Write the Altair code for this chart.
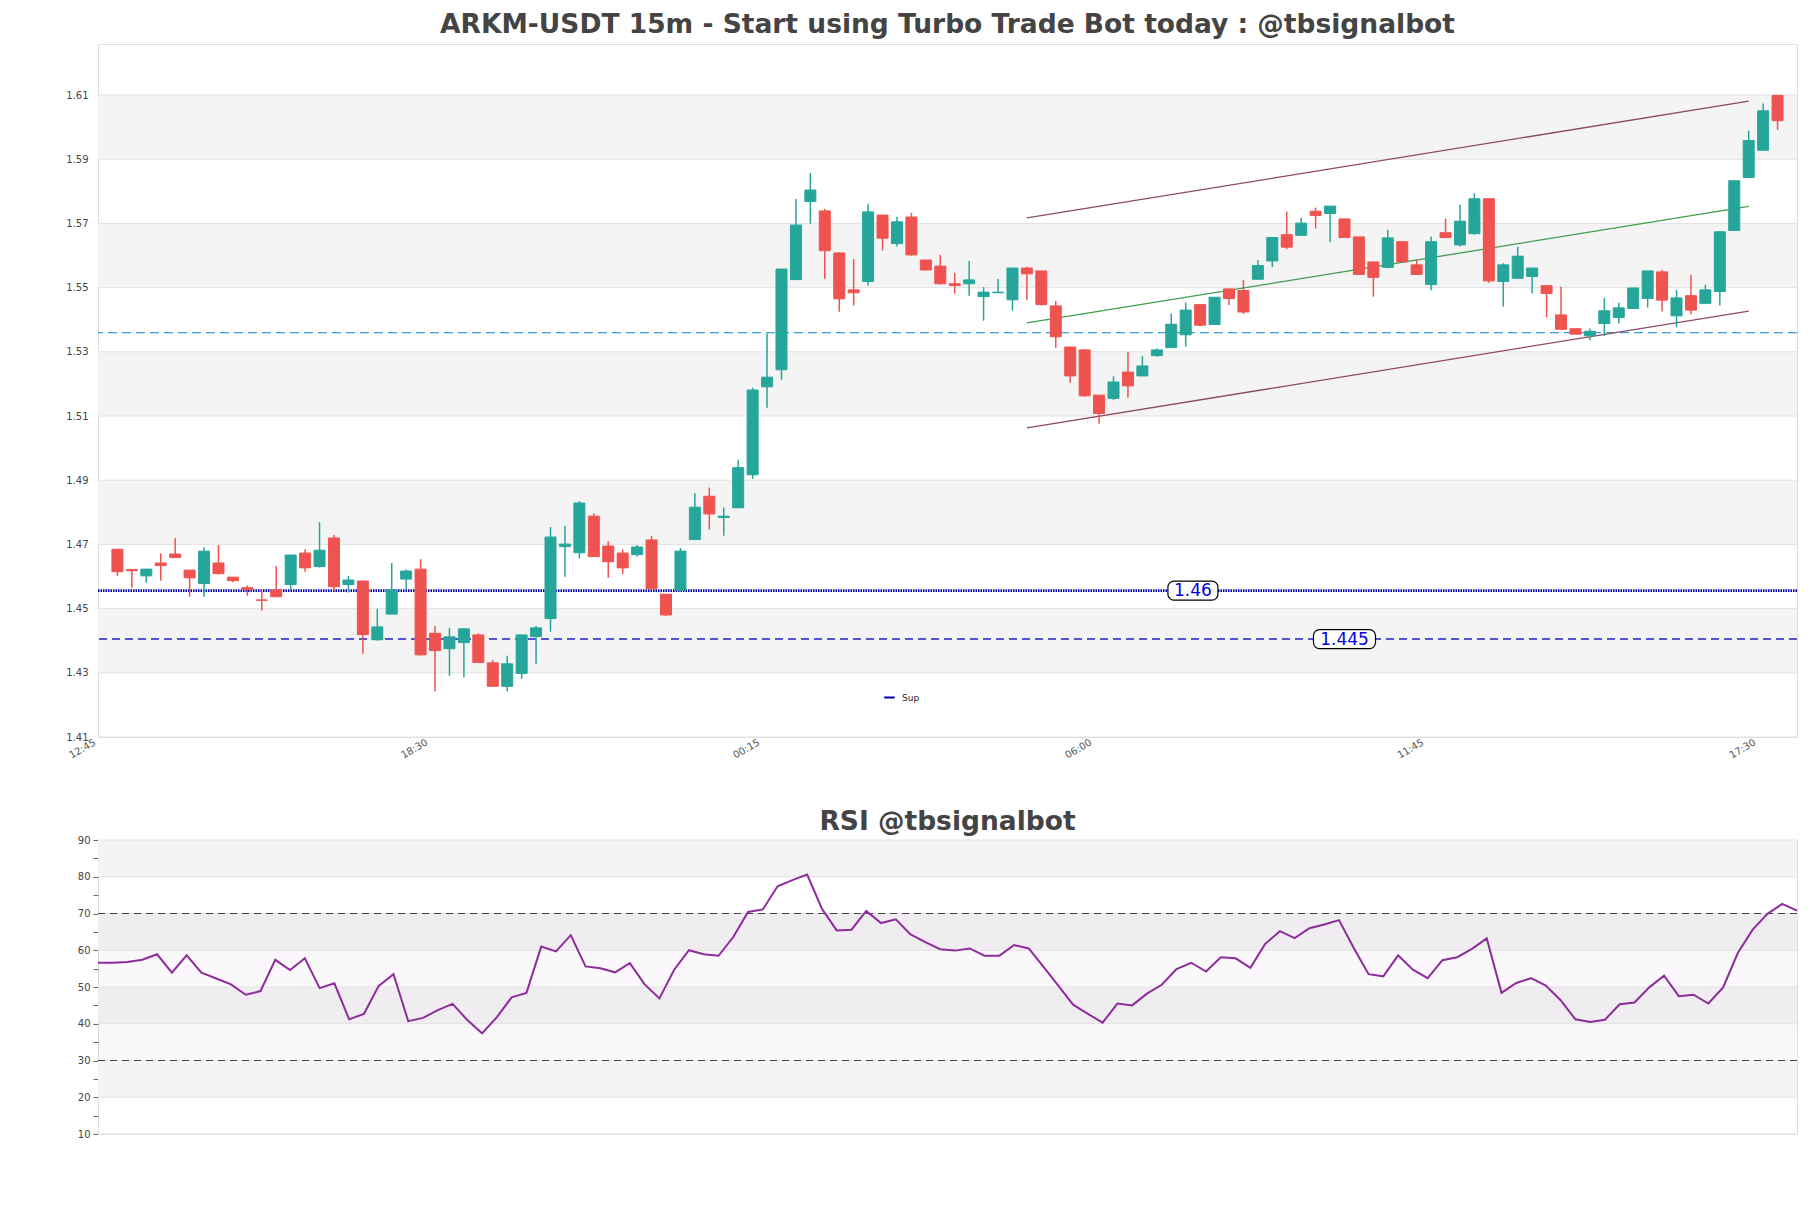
import altair as alt
import pandas as pd

# ---------------- data ----------------
opens = [1.4685, 1.4622, 1.4602, 1.4642, 1.4670, 1.4620, 1.4578, 1.4642, 1.4598, 1.4565,
         1.4527, 1.4558, 1.4575, 1.4673, 1.4631, 1.4720, 1.4575, 1.4586, 1.4403, 1.4483,
         1.4592, 1.4623, 1.4423, 1.4375, 1.4394, 1.4418, 1.4331, 1.4258, 1.4298, 1.4413,
         1.4469, 1.4693, 1.4674, 1.4788, 1.4695, 1.4673, 1.4668, 1.4714, 1.4545, 1.4557,
         1.4715, 1.4850, 1.4784, 1.4814, 1.4917, 1.5191, 1.5244, 1.5525, 1.5768, 1.5739,
         1.5608, 1.5493, 1.5519, 1.5726, 1.5637, 1.5720, 1.5586, 1.5567, 1.5512, 1.5512,
         1.5472, 1.5484, 1.5462, 1.5561, 1.5552, 1.5443, 1.5315, 1.5306, 1.5165, 1.5155,
         1.5237, 1.5225, 1.5288, 1.5313, 1.5353, 1.5447, 1.5385, 1.5496, 1.5491, 1.5526,
         1.5583, 1.5665, 1.5663, 1.5738, 1.5731, 1.5714, 1.5658, 1.5580, 1.5563, 1.5643,
         1.5571, 1.5510, 1.5671, 1.5633, 1.5668, 1.5777, 1.5519, 1.5529, 1.5535, 1.5506,
         1.5415, 1.5372, 1.5350, 1.5388, 1.5407, 1.5435, 1.5466, 1.5549, 1.5412, 1.5475,
         1.5451, 1.5488, 1.5678, 1.5843, 1.5928, 1.6099]
highs = [1.4685, 1.4622, 1.4623, 1.4672, 1.4720, 1.4620, 1.4691, 1.4698, 1.4598, 1.4572,
         1.4556, 1.4633, 1.4667, 1.4685, 1.4769, 1.4729, 1.4602, 1.4586, 1.4499, 1.4642,
         1.4623, 1.4654, 1.4446, 1.4440, 1.4437, 1.4423, 1.4340, 1.4353, 1.4418, 1.4446,
         1.4754, 1.4757, 1.4835, 1.4797, 1.4710, 1.4684, 1.4698, 1.4726, 1.4545, 1.4689,
         1.4859, 1.4877, 1.4815, 1.4964, 1.5188, 1.5357, 1.5558, 1.5776, 1.5857, 1.5746,
         1.5610, 1.5589, 1.5761, 1.5726, 1.5720, 1.5733, 1.5586, 1.5602, 1.5546, 1.5583,
         1.5502, 1.5527, 1.5561, 1.5565, 1.5552, 1.5458, 1.5315, 1.5308, 1.5165, 1.5224,
         1.5300, 1.5287, 1.5310, 1.5419, 1.5453, 1.5450, 1.5470, 1.5496, 1.5524, 1.5586,
         1.5656, 1.5737, 1.5718, 1.5749, 1.5754, 1.5714, 1.5658, 1.5580, 1.5680, 1.5643,
         1.5587, 1.5659, 1.5715, 1.5758, 1.5794, 1.5777, 1.5576, 1.5627, 1.5561, 1.5506,
         1.5503, 1.5372, 1.5373, 1.5468, 1.5453, 1.5499, 1.5552, 1.5556, 1.5493, 1.5540,
         1.5509, 1.5674, 1.5833, 1.5989, 1.6074, 1.6099]
lows = [1.4602, 1.4565, 1.4581, 1.4587, 1.4659, 1.4537, 1.4537, 1.4606, 1.4582, 1.4540,
        1.4494, 1.4537, 1.4560, 1.4615, 1.4628, 1.4556, 1.4550, 1.4359, 1.4400, 1.4483,
        1.4560, 1.4354, 1.4242, 1.4291, 1.4285, 1.4332, 1.4258, 1.4242, 1.4281, 1.4328,
        1.4428, 1.4599, 1.4656, 1.4662, 1.4596, 1.4608, 1.4662, 1.4560, 1.4477, 1.4557,
        1.4715, 1.4746, 1.4727, 1.4814, 1.4904, 1.5126, 1.5213, 1.5525, 1.5699, 1.5528,
        1.5425, 1.5444, 1.5507, 1.5615, 1.5628, 1.5600, 1.5553, 1.5510, 1.5481, 1.5475,
        1.5397, 1.5484, 1.5428, 1.5461, 1.5444, 1.5313, 1.5204, 1.5160, 1.5076, 1.5150,
        1.5157, 1.5225, 1.5285, 1.5313, 1.5316, 1.5380, 1.5385, 1.5446, 1.5418, 1.5526,
        1.5564, 1.5620, 1.5663, 1.5684, 1.5641, 1.5656, 1.5541, 1.5472, 1.5560, 1.5580,
        1.5541, 1.5492, 1.5656, 1.5628, 1.5665, 1.5515, 1.5441, 1.5529, 1.5482, 1.5407,
        1.5370, 1.5355, 1.5336, 1.5349, 1.5388, 1.5435, 1.5438, 1.5426, 1.5376, 1.5417,
        1.5451, 1.5444, 1.5678, 1.5843, 1.5928, 1.5992]
closes = [1.4615, 1.4618, 1.4623, 1.4634, 1.4659, 1.4596, 1.4679, 1.4609, 1.4587, 1.4560,
          1.4526, 1.4537, 1.4667, 1.4627, 1.4682, 1.4568, 1.4589, 1.4419, 1.4443, 1.4558,
          1.4617, 1.4356, 1.4369, 1.4412, 1.4437, 1.4332, 1.4258, 1.4328, 1.4418, 1.4440,
          1.4723, 1.4701, 1.4829, 1.4662, 1.4646, 1.4627, 1.4692, 1.4562, 1.4480, 1.4679,
          1.4816, 1.4795, 1.4788, 1.4939, 1.5181, 1.5221, 1.5558, 1.5695, 1.5804, 1.5615,
          1.5465, 1.5484, 1.5736, 1.5654, 1.5705, 1.5602, 1.5555, 1.5512, 1.5507, 1.5524,
          1.5486, 1.5486, 1.5561, 1.5543, 1.5447, 1.5347, 1.5225, 1.5163, 1.5108, 1.5206,
          1.5194, 1.5256, 1.5306, 1.5386, 1.5430, 1.5383, 1.5470, 1.5466, 1.5424, 1.5569,
          1.5656, 1.5626, 1.5701, 1.5725, 1.5754, 1.5656, 1.5541, 1.5532, 1.5655, 1.5580,
          1.5541, 1.5643, 1.5656, 1.5707, 1.5777, 1.5521, 1.5571, 1.5598, 1.5561, 1.5482,
          1.5370, 1.5355, 1.5364, 1.5428, 1.5437, 1.5499, 1.5552, 1.5461, 1.5468, 1.5430,
          1.5493, 1.5674, 1.5833, 1.5958, 1.6051, 1.6020]
rsi_values = [56.6, 56.6, 56.8, 57.4, 58.9, 53.9, 58.6, 53.9, 52.3, 50.7,
              47.9, 48.9, 57.4, 54.6, 57.8, 49.7, 51.0, 41.2, 42.7, 50.3,
              53.5, 40.7, 41.6, 43.7, 45.4, 41.0, 37.4, 41.8, 47.2, 48.4,
              61.0, 59.7, 64.1, 55.6, 55.1, 54.0, 56.5, 50.7, 46.9, 54.7,
              60.0, 58.9, 58.5, 63.6, 70.4, 71.1, 77.4, 79.1, 80.6, 71.3,
              65.4, 65.6, 70.7, 67.4, 68.4, 64.3, 62.2, 60.3, 59.9, 60.5,
              58.5, 58.5, 61.4, 60.5, 55.5, 50.4, 45.2, 42.7, 40.3, 45.5,
              45.0, 48.2, 50.6, 54.9, 56.6, 54.2, 58.1, 57.8, 55.2, 61.7,
              65.2, 63.3, 66.0, 67.0, 68.2, 60.6, 53.5, 52.9, 58.6, 54.7,
              52.4, 57.3, 58.1, 60.4, 63.2, 48.4, 51.1, 52.4, 50.4, 46.4,
              41.2, 40.5, 41.1, 45.3, 45.8, 49.9, 53.1, 47.5, 47.9, 45.5,
              49.9, 59.3, 65.6, 69.9, 72.6, 70.8]

tick_positions = [0, 23, 46, 69, 92, 115]
tick_labels = ["12:45", "18:30", "00:15", "06:00", "11:45", "17:30"]
price_ticks = [1.41, 1.43, 1.45, 1.47, 1.49, 1.51, 1.53, 1.55, 1.57, 1.59, 1.61]
price_band_lo = [1.43, 1.47, 1.51, 1.55, 1.59]
price_band_hi = [1.45, 1.49, 1.53, 1.57, 1.61]
resistance_level = [1.536]
sup_dotted_level = [1.4556]
sup_dashed_level = [1.4405]
level_labels = ["1.46", "1.445"]
level_label_pos = [75.5, 86.0]
level_label_y = [1.4556, 1.4405]
channel_x = [64, 114]
channel_upper = [1.5717, 1.6081]
channel_mid = [1.5390, 1.5753]
channel_lower = [1.5063, 1.5427]
rsi_ticks = list(range(10, 95, 5))
rsi_grid = [10, 20, 30, 40, 50, 60, 70, 80, 90]
rsi_band_lo = [80, 60, 40, 20]
rsi_band_hi = [90, 70, 50, 30]
rsi_levels = [70, 30]

# ---------------- frames ----------------
idx = list(range(1, len(opens) + 1))
candles = pd.DataFrame({"i": idx, "open": opens, "high": highs, "low": lows, "close": closes})
candles["dir"] = ["up" if c >= o else "down" for o, c in zip(opens, closes)]
candles["blo"] = candles[["open", "close"]].min(axis=1)
candles["bhi"] = candles[["open", "close"]].max(axis=1)

bands = pd.DataFrame({"lo": price_band_lo, "hi": price_band_hi})
grid = pd.DataFrame({"p": price_ticks})
chan = pd.DataFrame({
    "i": channel_x * 3,
    "p": channel_upper + channel_mid + channel_lower,
    "line": ["upper"] * 2 + ["mid"] * 2 + ["lower"] * 2,
})
labels_df = pd.DataFrame({"i": level_label_pos, "p": level_label_y, "t": level_labels})

W = 1699
H1 = 693
H2 = 294
FONT = "DejaVu Sans"
UP = "#26a69a"
DOWN = "#ef5350"

xs = alt.Scale(domain=[0, 117], nice=False, zero=False)
ys = alt.Scale(domain=[1.41, 1.6259], nice=False, zero=False)

expr = "''"
for pos, lab in reversed(list(zip(tick_positions, tick_labels))):
    expr = f"datum.value == {pos} ? '{lab}' : ({expr})"

x_axis = alt.Axis(values=tick_positions, labelExpr=expr, labelAngle=-30, labelAlign="right",
                  labelBaseline="top", ticks=False, domain=False, grid=False, title=None,
                  labelFlush=False, labelFontSize=10, labelColor="#555555", labelPadding=0,
                  labelOffset=-11, labelFont=FONT)
y_axis = alt.Axis(values=price_ticks, format=".2f", ticks=False, domain=False, grid=False,
                  title=None, labelPadding=10, minExtent=89.5, maxExtent=89.5,
                  labelFontSize=10, labelColor="#444444", labelFont=FONT)


def X(field):
    return alt.X(field, scale=xs, axis=x_axis)


def Y(field):
    return alt.Y(field, scale=ys, axis=y_axis)


band_layer = alt.Chart(bands).mark_rect(color="#f4f4f4").encode(
    x=alt.value(0), x2=alt.value(W), y=Y("lo:Q"), y2="hi:Q")

# invisible anchor layer carrying the x axis
x_anchor = alt.Chart(candles).mark_point(opacity=0).encode(x=X("i:Q"), y=Y("close:Q"))

grid_layer = alt.Chart(grid).mark_rule(color="#e2e2e2", strokeWidth=1).encode(y=Y("p:Q"))

res_layer = alt.Chart(pd.DataFrame({"p": resistance_level})).mark_rule(
    color="#3a9fd3", strokeWidth=1.3, strokeDash=[9, 5]).encode(y=Y("p:Q"))

sup_dot = alt.Chart(pd.DataFrame({"p": sup_dotted_level, "name": ["Sup"]})).mark_rule(
    strokeWidth=2.6, strokeDash=[1.5, 1]).encode(
    y=Y("p:Q"),
    stroke=alt.Stroke("name:N", scale=alt.Scale(domain=["Sup"], range=["#0000b0"]),
                      legend=alt.Legend(title=None, orient="none", legendX=785, legendY=647,
                                        symbolType="stroke", symbolStrokeWidth=2,
                                        symbolSize=110, symbolDash=[1, 0], labelFontSize=9,
                                        labelFont=FONT, labelColor="#222222", padding=0,
                                        labelOffset=6)))

sup_dash = alt.Chart(pd.DataFrame({"p": sup_dashed_level})).mark_rule(
    color="#1f1fc0", strokeWidth=1.5, strokeDash=[8, 5]).encode(y=Y("p:Q"))

chan_layer = alt.Chart(chan).mark_line(strokeWidth=1.3).encode(
    x=X("i:Q"), y=Y("p:Q"), detail="line:N",
    color=alt.Color("line:N", scale=alt.Scale(domain=["upper", "mid", "lower"],
                                              range=["#8c4a63", "#3f9e4d", "#8c4a63"]), legend=None))

col = alt.Color("dir:N", scale=alt.Scale(domain=["up", "down"], range=[UP, DOWN]), legend=None)

wicks = alt.Chart(candles).mark_rule(strokeWidth=1.5).encode(
    x=X("i:Q"), y=Y("low:Q"), y2="high:Q", color=col)

bodies = alt.Chart(candles).mark_bar(size=11, strokeWidth=1).encode(
    x=X("i:Q"), y=Y("blo:Q"), y2="bhi:Q", color=col,
    stroke=alt.Stroke("dir:N", scale=alt.Scale(domain=["up", "down"], range=[UP, DOWN]), legend=None))

rects = []
for pos, yv, w in zip(level_label_pos, level_label_y, [50, 62]):
    rects.append(alt.Chart(pd.DataFrame({"i": [pos], "p": [yv]})).mark_rect(
        width=w, height=19, cornerRadius=6, fill="white", stroke="black", strokeWidth=1.2).encode(
        x=X("i:Q"), y=Y("p:Q")))

texts = alt.Chart(labels_df).mark_text(fontSize=17, color="#0000e0", font=FONT, baseline="middle",
                                       dy=0.5).encode(x=X("i:Q"), y=Y("p:Q"), text="t:N")

top = alt.layer(band_layer, x_anchor, grid_layer, res_layer, sup_dot, sup_dash, chan_layer,
                wicks, bodies, *rects, texts).resolve_scale(color="independent", stroke="independent").properties(
    width=W, height=H1,
    title=alt.TitleParams("ARKM-USDT 15m - Start using Turbo Trade Bot today : @tbsignalbot",
                          fontSize=26.5, fontWeight="bold", color="#444444", font=FONT,
                          anchor="middle", offset=6))

# ---------------- RSI ----------------
rsi_df = pd.DataFrame({"i": idx, "rsi": rsi_values})
xs2 = alt.Scale(domain=[1, len(idx)], nice=False, zero=False)
ys2 = alt.Scale(domain=[10, 90], nice=False, zero=False)

rsi_axis = alt.Axis(values=rsi_ticks, labelExpr="datum.value % 10 == 0 ? datum.label : ''",
                    ticks=True, tickSize=5, tickColor="#666666", domain=False, grid=False,
                    title=None, labelPadding=3, minExtent=89.5, maxExtent=89.5,
                    labelFontSize=10, labelColor="#444444", labelFont=FONT)


def Y2(field):
    return alt.Y(field, scale=ys2, axis=rsi_axis)


rband = alt.Chart(pd.DataFrame({"lo": rsi_band_lo, "hi": rsi_band_hi})).mark_rect(color="#f4f4f4").encode(
    x=alt.value(0), x2=alt.value(W), y=Y2("lo:Q"), y2="hi:Q")
hatch = alt.Chart(pd.DataFrame({"lo": [30], "hi": [70]})).mark_rect(color="#9a4fb0", opacity=0.04).encode(
    x=alt.value(0), x2=alt.value(W), y=Y2("lo:Q"), y2="hi:Q")
rgrid = alt.Chart(pd.DataFrame({"p": rsi_grid})).mark_rule(color="#e2e2e2").encode(y=Y2("p:Q"))
rlev = alt.Chart(pd.DataFrame({"p": rsi_levels})).mark_rule(color="#444444", strokeWidth=1.2,
                                                           strokeDash=[7, 5]).encode(y=Y2("p:Q"))
rline = alt.Chart(rsi_df).mark_line(color="#8e2c9c", strokeWidth=2).encode(
    x=alt.X("i:Q", scale=xs2, axis=None), y=Y2("rsi:Q"))

bottom = alt.layer(rband, hatch, rgrid, rlev, rline).properties(
    width=W, height=H2,
    title=alt.TitleParams("RSI @tbsignalbot", fontSize=26.5, fontWeight="bold", color="#444444",
                          font=FONT, anchor="middle", offset=0))

chart = alt.vconcat(top, bottom, spacing=47).properties(
    padding={"left": 0, "top": 3, "right": 0, "bottom": 0}
).configure_view(stroke="#dddddd").configure(font=FONT)

chart.save("out.html", embed_options={"renderer": "svg", "actions": False})
